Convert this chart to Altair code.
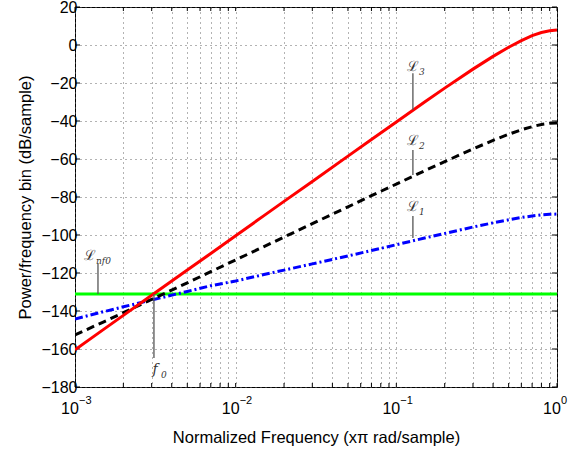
import altair as alt
import pandas as pd

# ---- data ----
freq = [0.001, 0.0015, 0.002, 0.003, 0.005, 0.007, 0.01, 0.015, 0.02, 0.03,
        0.05, 0.07, 0.1, 0.15, 0.2, 0.3, 0.4, 0.5, 0.6, 0.7, 0.8, 0.9, 1.0]
l3_db = [-160.4, -149.8, -142.3, -131.7, -118.4, -109.7, -100.4, -89.8, -82.3, -71.8,
         -58.5, -49.7, -40.5, -30.0, -22.7, -12.7, -6.0, -1.2, 2.3, 4.9, 6.6, 7.5, 7.9]
l2_db = [-152.6, -145.8, -140.9, -133.9, -125.2, -119.3, -113.1, -106.1, -101.1, -94.0,
         -85.2, -79.3, -73.2, -66.2, -61.4, -54.7, -50.2, -47.0, -44.6, -43.0, -41.8, -41.2, -41.0]
l1_db = [-144.2, -140.4, -137.8, -134.2, -129.7, -126.7, -124.2, -120.8, -118.5, -115.2,
         -111.0, -108.2, -105.1, -101.6, -99.2, -95.8, -93.6, -92.0, -90.8, -90.0, -89.4, -89.1, -89.0]
nf_freq = [0.001, 1.0]
nf_db = [-131.0, -131.0]

grid_freq = [0.001, 0.002, 0.003, 0.004, 0.005, 0.006, 0.007, 0.008, 0.009,
             0.01, 0.02, 0.03, 0.04, 0.05, 0.06, 0.07, 0.08, 0.09,
             0.1, 0.2, 0.3, 0.4, 0.5, 0.6, 0.7, 0.8, 0.9, 1.0]
y_ticks = [-180, -160, -140, -120, -100, -80, -60, -40, -20, 0, 20]
x_major = [0.001, 0.01, 0.1, 1.0]
x_exp = ["\u22123", "\u22122", "\u22121", "0"]

# annotations
ann_f = [0.00139, 0.0031, 0.1268, 0.1268, 0.1268]
ann_db = [-114.7, -164.7, -14.9, -55.3, -90.0]
ann_db2 = [-131.0, -131.0, -34.2, -68.4, -101.6]
lab_f = [0.00124, 0.00315, 0.1268, 0.1268, 0.1268]
lab_db = [-111.0, -171.0, -11.6, -50.5, -85.5]
lab_main = ["\u2112", "f", "\u2112", "\u2112", "\u2112"]
lab_kind = ["L", "f", "L", "L", "L"]
lab_sub = ["nf0", "0", "3", "2", "1"]

# ---- shared encodings ----
FONT = "Liberation Sans"
xscale = alt.Scale(type="log", domain=[0.001, 1.0], nice=False)
yscale = alt.Scale(domain=[-180, 20], nice=False, zero=False)
xaxis = alt.Axis(values=grid_freq, grid=True, gridColor="#666", gridDash=[1, 4],
                 gridWidth=1, ticks=False, tickSize=0, labels=False, domain=False,
                 title="Normalized Frequency (x\u03c0 rad/sample)",
                 titleY=50, titleBaseline="middle", titleFontSize=16.5,
                 titleFont=FONT, titleFontWeight="normal", titleColor="black")
yaxis = alt.Axis(values=y_ticks, grid=True, gridColor="#666", gridDash=[1, 4],
                 gridWidth=1, ticks=False, tickSize=0, domain=False, labelPadding=-2,
                 labelFont=FONT, labelFontSize=16, labelColor="black",
                 title="Power/frequency bin (dB/sample)",
                 titleX=-50, titleY=190, titleBaseline="middle", titleFontSize=16.5,
                 titleFont=FONT, titleFontWeight="normal", titleColor="black")
X = alt.X("f:Q", scale=xscale, axis=xaxis)
Y = alt.Y("db:Q", scale=yscale, axis=yaxis)

# ---- layers ----
grid_df = pd.DataFrame({"f": grid_freq})
yt_df = pd.DataFrame({"db": y_ticks})

bottom_ticks = alt.Chart(grid_df).mark_rule(color="black", strokeWidth=1).encode(
    x=X, y=alt.value(380), y2=alt.value(376))
top_ticks = alt.Chart(grid_df).mark_rule(color="black", strokeWidth=1).encode(
    x=X, y=alt.value(0), y2=alt.value(4))
left_ticks = alt.Chart(yt_df).mark_rule(color="black", strokeWidth=1).encode(
    y=Y, x=alt.value(0), x2=alt.value(5))
right_ticks = alt.Chart(yt_df).mark_rule(color="black", strokeWidth=1).encode(
    y=Y, x=alt.value(482), x2=alt.value(477))

def series(f, d, color, dash=None):
    kw = dict(color=color, strokeWidth=3, clip=True)
    if dash:
        kw["strokeDash"] = dash
    return alt.Chart(pd.DataFrame({"f": f, "db": d})).mark_line(**kw).encode(x=X, y=Y)

green = series(nf_freq, nf_db, "#00ff00")
blue = series(freq, l1_db, "#0000ff", [8, 3, 2, 3])
black = series(freq, l2_db, "#000000", [8, 5])
red = series(freq, l3_db, "#ff0000")

ann_df = pd.DataFrame({"f": ann_f, "db": ann_db, "db2": ann_db2})
ann_lines = alt.Chart(ann_df).mark_rule(color="#555", strokeWidth=1.3).encode(
    x=X, y=Y, y2=alt.Y2("db2:Q"))

lab_df = pd.DataFrame({"f": lab_f, "db": lab_db, "main": lab_main,
                       "sub": lab_sub, "kind": lab_kind})
lab_L = alt.Chart(lab_df).transform_filter("datum.kind == 'L'").mark_text(
    font="DejaVu Serif", fontSize=14, color="#333",
    align="center", baseline="middle").encode(x=X, y=Y, text="main:N")
lab_f0 = alt.Chart(lab_df).transform_filter("datum.kind == 'f'").mark_text(
    font="DejaVu Serif", fontStyle="italic", fontSize=14, color="#333",
    align="center", baseline="middle").encode(x=X, y=Y, text="main:N")
lab_sub_t = alt.Chart(lab_df).mark_text(
    font="DejaVu Serif", fontStyle="italic", fontSize=9, color="#333",
    align="left", baseline="middle", dx=6, dy=5).encode(x=X, y=Y, text="sub:N")

xl_df = pd.DataFrame({"f": x_major, "exp": x_exp, "ten": ["10"] * 4})
xl_ten = alt.Chart(xl_df).mark_text(
    font=FONT, fontSize=16, color="black", align="center", baseline="middle",
    dx=-5).encode(x=X, y=alt.value(402), text="ten:N")
xl_exp = alt.Chart(xl_df).mark_text(
    font=FONT, fontSize=11, color="black", align="left", baseline="middle",
    dx=4).encode(x=X, y=alt.value(394), text="exp:N")

chart = alt.layer(
    bottom_ticks, top_ticks, left_ticks, right_ticks,
    green, blue, black, red,
    ann_lines, lab_L, lab_f0, lab_sub_t, xl_ten, xl_exp,
).properties(
    width=482, height=380,
    autosize=alt.AutoSizeParams(type="none"),
    padding={"left": 75, "top": 7, "right": 25, "bottom": 64},
    background="white",
).configure_view(stroke="black", strokeWidth=1)

chart.save("out.html", embed_options={"renderer": "svg", "actions": False})
